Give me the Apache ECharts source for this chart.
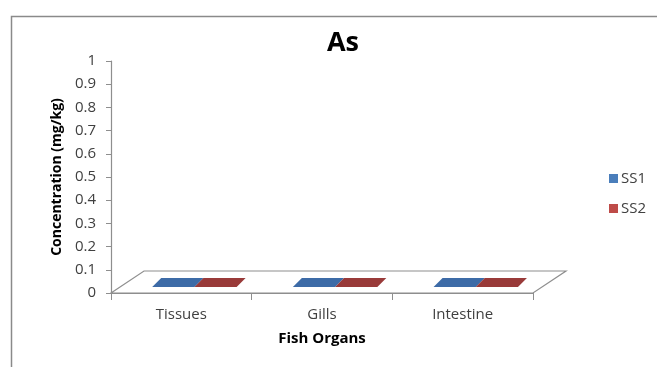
<!DOCTYPE html>
<html>
<head>
<meta charset="utf-8">
<title>As</title>
<script src="https://cdn.jsdelivr.net/npm/echarts@6/dist/echarts.min.js"></script>
<style>
  html, body { margin: 0; padding: 0; background: #ffffff; }
  #chart { width: 657px; height: 367px; }
</style>
</head>
<body>
<div id="chart"></div>
<script>
// Arsenic concentration in fish organs, two sampling stations
const organs = ['Tissues', 'Gills', 'Intestine'];
const ss1 = [0, 0, 0];
const ss2 = [0, 0, 0];
const seriesNames = ['SS1', 'SS2'];
const seriesColors = ['#3d6ba7', '#993a39'];
const legendColors = ['#4a7ebb', '#be4b48'];

const FONT = '"Open Sans", sans-serif';

// floor depth vector (pixels) for the pseudo-3D plot floor
const FLOOR_DX = 33;
const FLOOR_DY = 22;

// renders one flat 3D bar: front face + top face + side face
function barRenderer(seriesIndex) {
  return function (params, api) {
    const cat = api.value(0);
    const val = api.value(1);
    const band = api.size([1, 0])[0];
    const base = api.coord([cat, 0]);
    const top = api.coord([cat, val]);
    const barW = band * 0.3;
    const shift = band * 0.093;
    const x0 = base[0] + shift - barW + seriesIndex * barW;
    const x1 = x0 + barW;
    const lift = 6, depthY = 9, depthX = 9;
    const fy0 = base[1] - lift;
    const fy1 = top[1] - lift;
    const color = api.visual('color');
    const children = [];
    if (fy0 - fy1 > 0.5) {
      children.push({
        type: 'rect',
        shape: { x: x0, y: fy1, width: barW, height: fy0 - fy1 },
        style: { fill: color }
      });
      children.push({
        type: 'polygon',
        shape: { points: [[x1, fy1], [x1 + depthX, fy1 - depthY], [x1 + depthX, fy0 - depthY], [x1, fy0]] },
        style: { fill: color, opacity: 0.8 }
      });
    }
    children.push({
      type: 'polygon',
      shape: { points: [[x0, fy1], [x1, fy1], [x1 + depthX, fy1 - depthY], [x0 + depthX, fy1 - depthY]] },
      style: { fill: color }
    });
    return { type: 'group', children: children };
  };
}

function floorRenderer(params, api) {
  const cs = params.coordSys;
  const yb = cs.y + cs.height;
  const xl = cs.x, xr = cs.x + cs.width;
  return {
    type: 'polygon',
    shape: { points: [[xl, yb], [xl + FLOOR_DX, yb - FLOOR_DY], [xr + FLOOR_DX, yb - FLOOR_DY], [xr, yb]] },
    style: { fill: '#ffffff', stroke: '#8e8e8e', lineWidth: 1.2 },
    z2: 0
  };
}

const chart = echarts.init(document.getElementById('chart'));

const option = {
  backgroundColor: '#ffffff',
  animation: false,
  graphic: [{
    type: 'rect',
    left: 9, top: 14,
    shape: { width: 720, height: 420 },
    style: { fill: 'none', stroke: '#8a8a8a', lineWidth: 1.5 },
    silent: true,
    z: -1
  }],
  title: {
    text: 'As',
    left: 338,
    textAlign: 'center',
    top: 25,
    textStyle: { fontFamily: FONT, fontSize: 27, fontWeight: 'bold', color: '#000000' }
  },
  legend: {
    data: seriesNames.map((n, i) => ({ name: n, itemStyle: { color: legendColors[i] } })),
    orient: 'vertical',
    left: 604,
    top: 166,
    itemWidth: 9,
    itemHeight: 9,
    itemGap: 15,
    icon: 'rect',
    textStyle: { fontFamily: FONT, fontSize: 15, color: '#404040', padding: [0, 0, 0, -2] }
  },
  grid: { left: 111, right: 124, top: 61, bottom: 74, containLabel: false },
  xAxis: {
    type: 'category',
    data: organs,
    name: 'Fish Organs',
    nameLocation: 'middle',
    nameGap: 38,
    nameTextStyle: { fontFamily: FONT, fontSize: 15, fontWeight: 'bold', color: '#000000' },
    axisLine: { show: true, lineStyle: { color: '#8e8e8e', width: 1.2 } },
    axisTick: { show: true, length: 7, lineStyle: { color: '#8e8e8e' } },
    axisLabel: { margin: 14, fontFamily: FONT, fontSize: 15, color: '#404040' },
    splitLine: { show: false }
  },
  yAxis: {
    type: 'value',
    min: 0,
    max: 1,
    interval: 0.1,
    name: 'Concentration (mg/kg)',
    nameLocation: 'middle',
    nameGap: 46,
    nameTextStyle: { fontFamily: FONT, fontSize: 14, fontWeight: 'bold', color: '#000000' },
    axisLine: { show: true, lineStyle: { color: '#8e8e8e', width: 1.2 } },
    axisTick: { show: true, length: 5, lineStyle: { color: '#8e8e8e' } },
    axisLabel: { margin: 15, fontFamily: FONT, fontSize: 15, color: '#404040' },
    splitLine: { show: false }
  },
  series: [
    {
      name: 'floor',
      type: 'custom',
      renderItem: floorRenderer,
      data: [[0, 0]],
      clip: false,
      silent: true,
      z: 1
    },
    {
      name: seriesNames[0],
      type: 'custom',
      renderItem: barRenderer(0),
      data: ss1.map((v, i) => [i, v]),
      itemStyle: { color: seriesColors[0] },
      clip: false,
      z: 2
    },
    {
      name: seriesNames[1],
      type: 'custom',
      renderItem: barRenderer(1),
      data: ss2.map((v, i) => [i, v]),
      itemStyle: { color: seriesColors[1] },
      clip: false,
      z: 2
    }
  ]
};

chart.setOption(option);
</script>
</body>
</html>
